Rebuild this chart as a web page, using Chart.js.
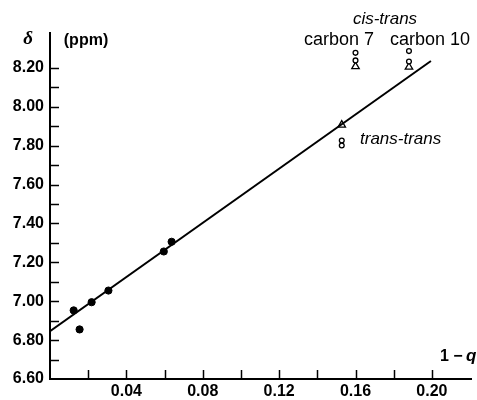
<!DOCTYPE html>
<html>
<head>
<meta charset="utf-8">
<script src="https://cdn.jsdelivr.net/npm/chart.js@4"></script>
<style>
  body { margin: 0; background: #fff; }
  canvas { display: block; }
</style>
</head>
<body>
<canvas id="chart" width="477" height="400"></canvas>
<script>
// filled points (experimental)
const filledX = [0.0124, 0.0155, 0.0218, 0.0306, 0.0596, 0.0637];
const filledY = [6.953, 6.855, 6.995, 7.055, 7.256, 7.306];

// straight fit line
const fitX = [0, 0.1995];
const fitY = [6.846, 8.236];

// open circles
const circleX = [0.160, 0.160, 0.188, 0.188, 0.1528, 0.1528];
const circleY = [8.278, 8.239, 8.287, 8.233, 7.827, 7.801];

// open triangles
const triX = [0.160, 0.188, 0.1528];
const triY = [8.208, 8.205, 7.907];

const xTickLabels = ['0.04', '0.08', '0.12', '0.16', '0.20'];
const yTickLabels = ['6.60', '6.80', '7.00', '7.20', '7.40', '7.60', '7.80', '8.00', '8.20'];

const pts = (xs, ys) => xs.map((x, i) => ({ x: x, y: ys[i] }));

const tickFont = { family: 'Liberation Sans', size: 16, weight: 'bold' };

// inward tick marks
const innerTicks = {
  id: 'innerTicks',
  afterDraw(chart) {
    const c = chart.ctx;
    const xs = chart.scales.x, ys = chart.scales.y;
    const area = chart.chartArea;
    c.save();
    c.strokeStyle = '#000';
    c.lineWidth = 1.5;
    ys.ticks.forEach(t => {
      if (t.value > 8.21 || t.value < 6.61) return;
      const py = Math.round(ys.getPixelForValue(t.value)) + 0.5;
      c.beginPath();
      c.moveTo(area.left, py);
      c.lineTo(area.left + 9, py);
      c.stroke();
    });
    xs.ticks.forEach(t => {
      if (t.value < 0.01 || t.value > 0.21) return;
      const px = Math.round(xs.getPixelForValue(t.value)) + 0.5;
      c.beginPath();
      c.moveTo(px, area.bottom);
      c.lineTo(px, area.bottom - 9);
      c.stroke();
    });
    c.restore();
  }
};

// text annotations
const notes = {
  id: 'notes',
  afterDraw(chart) {
    const c = chart.ctx;
    c.save();
    c.fillStyle = '#000';
    c.textBaseline = 'middle';
    c.textAlign = 'center';
    c.font = 'italic bold 19px "Liberation Serif"';
    c.fillText('\u03b4', 28, 39);
    c.font = 'bold 16px "Liberation Sans"';
    c.fillText('(ppm)', 86, 41);
    c.font = 'italic 17px "Liberation Sans"';
    c.fillText('cis-trans', 385, 19);
    c.font = '18px "Liberation Sans"';
    c.fillText('carbon 7', 339, 40);
    c.fillText('carbon 10', 430, 40);
    c.textAlign = 'left';
    c.font = 'italic 17px "Liberation Sans"';
    c.fillText('trans-trans', 360, 139);
    c.font = 'bold 16px "Liberation Sans"';
    c.fillText('1 \u2212', 440, 357);
    c.font = 'italic bold 17px "Liberation Sans"';
    c.fillText('q', 466, 356);
    c.restore();
  }
};

new Chart(document.getElementById('chart'), {
  type: 'scatter',
  data: {
    datasets: [
      {
        type: 'line',
        data: pts(fitX, fitY),
        borderColor: '#000',
        borderWidth: 2,
        pointRadius: 0,
        fill: false
      },
      {
        data: pts(filledX, filledY),
        backgroundColor: '#000',
        borderColor: '#000',
        pointRadius: 3.6
      },
      {
        data: pts(circleX, circleY),
        backgroundColor: '#fff',
        borderColor: '#000',
        borderWidth: 1.3,
        pointRadius: 2.4
      },
      {
        data: pts(triX, triY),
        pointStyle: 'triangle',
        backgroundColor: '#fff',
        borderColor: '#000',
        borderWidth: 1.3,
        pointRadius: 4.3
      }
    ]
  },
  options: {
    responsive: false,
    animation: false,
    layout: { padding: { top: 33, right: 1, left: 0, bottom: 0 } },
    plugins: { legend: { display: false }, tooltip: { enabled: false } },
    scales: {
      x: {
        type: 'linear',
        min: 0,
        max: 0.2207,
        afterFit: s => { s.height = 21; },
        grid: { display: false, drawTicks: false },
        border: { display: true, color: '#000', width: 2 },
        ticks: {
          stepSize: 0.02,
          includeBounds: false,
          autoSkip: false,
          maxRotation: 0,
          padding: 3,
          color: '#000',
          font: tickFont,
          callback: v => {
            const s = Number(v).toFixed(2);
            return xTickLabels.includes(s) ? s : '';
          }
        }
      },
      y: {
        type: 'linear',
        min: 6.6,
        max: 8.38,
        afterFit: s => { s.width = 50; },
        grid: { display: false, drawTicks: false },
        border: { display: true, color: '#000', width: 2 },
        ticks: {
          stepSize: 0.1,
          includeBounds: false,
          autoSkip: false,
          padding: 6,
          color: '#000',
          font: tickFont,
          callback: v => {
            const s = Number(v).toFixed(2);
            return yTickLabels.includes(s) ? s : '';
          }
        }
      }
    }
  },
  plugins: [innerTicks, notes]
});
</script>
</body>
</html>
